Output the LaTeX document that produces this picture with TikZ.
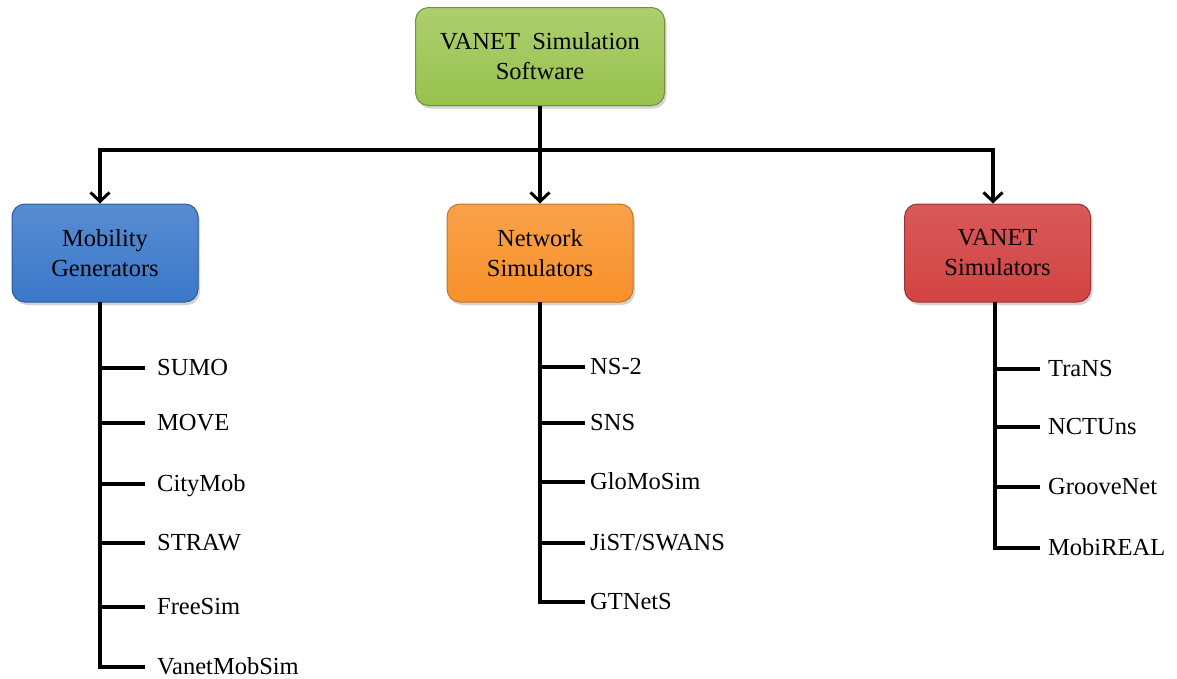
\documentclass[tikz,border=0pt]{standalone}
\usepackage{fontspec}
\setmainfont{Liberation Serif}
\usetikzlibrary{arrows.meta,shadows}

\definecolor{softgreen}{HTML}{98C24C}
\definecolor{softblue}{HTML}{3A78C9}
\definecolor{softorange}{HTML}{F8912A}
\definecolor{softred}{HTML}{D34343}

\begin{document}
\begin{tikzpicture}[x=1pt,y=-1pt,
        box/.style={draw,line width=1pt,rounded corners=13pt,minimum width=186pt,minimum height=98pt,
            align=center,inner sep=0pt,font=\fontsize{24.5}{30}\selectfont,
            drop shadow={opacity=0.35,shadow xshift=2pt,shadow yshift=-3pt}},
        item/.style={anchor=west,inner sep=0pt,text height=17pt,text depth=2pt,font=\fontsize{24.5}{29}\selectfont},
        link/.style={draw=black,line width=3.6pt},
        down/.style={link,-{Straight Barb[length=9pt,width=19pt,line width=3pt]}}]
                \useasboundingbox (0,0) rectangle (1177,678);

                % boxes
                \node[box,draw=softgreen!75!black,top color=softgreen!80!white,bottom color=softgreen,minimum width=249pt] (software) at (540,56.5) {VANET\ \ Simulation\\Software};
                \node[box,draw=softblue!75!black,top color=softblue!85!white,bottom color=softblue] (mobility) at (105,253) {Mobility\\Generators};
                \node[box,draw=softorange!80!black,top color=softorange!85!white,bottom color=softorange] (network) at (540,253) {Network\\Simulators};
                \node[box,draw=softred!75!black,top color=softred!88!white,bottom color=softred] (vanetsim) at (997.5,253) {VANET\\Simulators};

                % top connectors
                \coordinate (hub) at (540,150);
                \coordinate (leftend) at (100,150);
                \coordinate (rightend) at (993,150);
                \path [link] (software.south) -- (hub);
                \path [link,line cap=rect] (leftend) -- (rightend);
                \path [down] (leftend) -- (leftend |- mobility.north);
                \path [down] (hub) -- (network.north);
                \path [down] (rightend) -- (rightend |- vanetsim.north);

                % mobility generators
                \coordinate (mobroot) at (100,302);
                \node[item] (sumo) at (157,368) {SUMO};
                \node[item] (move) at (157,423) {MOVE};
                \node[item] (citymob) at (157,484) {CityMob};
                \node[item] (straw) at (157,543) {STRAW};
                \node[item] (freesim) at (157,607) {FreeSim};
                \node[item] (vanetmobsim) at (157,667) {VanetMobSim};

                \path [link] (mobroot) -- (mobroot |- vanetmobsim.west) -- ([xshift=-12pt]vanetmobsim.west);
                \path [link] (mobroot |- sumo.west) -- ([xshift=-12pt]sumo.west);
                \path [link] (mobroot |- move.west) -- ([xshift=-12pt]move.west);
                \path [link] (mobroot |- citymob.west) -- ([xshift=-12pt]citymob.west);
                \path [link] (mobroot |- straw.west) -- ([xshift=-12pt]straw.west);
                \path [link] (mobroot |- freesim.west) -- ([xshift=-12pt]freesim.west);

                % network simulators
                \coordinate (netroot) at (540,302);
                \node[item] (ns2) at (590,367) {NS-2};
                \node[item] (sns) at (590,423) {SNS};
                \node[item] (glomosim) at (590,482) {GloMoSim};
                \node[item] (jist) at (590,543) {JiST/SWANS};
                \node[item] (gtnets) at (590,602) {GTNetS};

                \path [link] (netroot) -- (netroot |- gtnets.west) -- ([xshift=-5pt]gtnets.west);
                \path [link] (netroot |- ns2.west) -- ([xshift=-5pt]ns2.west);
                \path [link] (netroot |- sns.west) -- ([xshift=-5pt]sns.west);
                \path [link] (netroot |- glomosim.west) -- ([xshift=-5pt]glomosim.west);
                \path [link] (netroot |- jist.west) -- ([xshift=-5pt]jist.west);

                % vanet simulators
                \coordinate (vanroot) at (995,302);
                \node[item] (trans) at (1048,369) {TraNS};
                \node[item] (nctuns) at (1048,427) {NCTUns};
                \node[item] (groovenet) at (1048,487) {GrooveNet};
                \node[item] (mobireal) at (1048,548) {MobiREAL};

                \path [link] (vanroot) -- (vanroot |- mobireal.west) -- ([xshift=-8pt]mobireal.west);
                \path [link] (vanroot |- trans.west) -- ([xshift=-8pt]trans.west);
                \path [link] (vanroot |- nctuns.west) -- ([xshift=-8pt]nctuns.west);
                \path [link] (vanroot |- groovenet.west) -- ([xshift=-8pt]groovenet.west);
            \end{tikzpicture}
\end{document}
